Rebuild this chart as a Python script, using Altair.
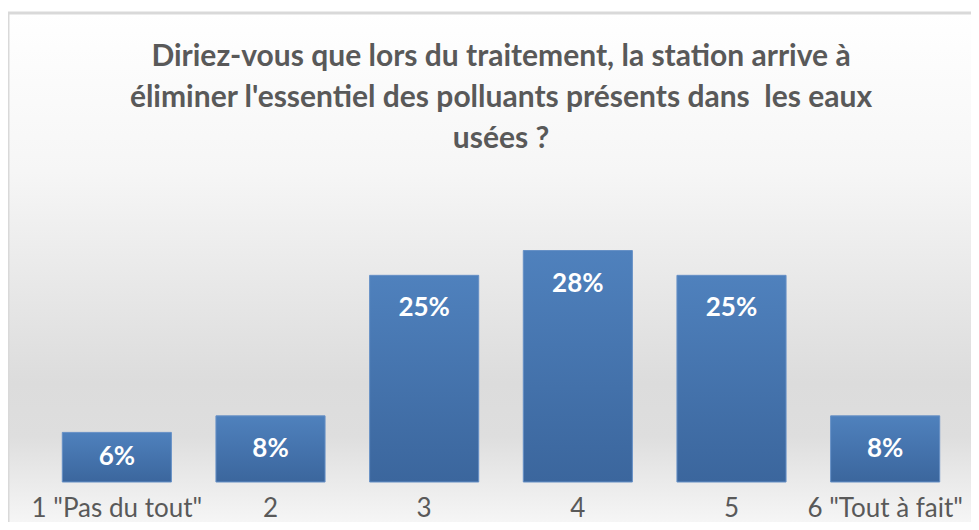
import altair as alt
import pandas as pd

categories = ['1 "Pas du tout"', '2', '3', '4', '5', '6 "Tout à fait"']
values = [6, 8, 25, 28, 25, 8]
title_lines = [
    "Diriez-vous que lors du traitement, la station arrive à",
    "éliminer l'essentiel des polluants présents dans\u00a0 les eaux",
    "usées ?",
]

df = pd.DataFrame({"cat": categories, "val": values})

W = 922
H = 248
FONT = "Lato"
GREY = "#595959"

x_enc = alt.X("cat:N", sort=categories,
              scale=alt.Scale(paddingInner=0.29, paddingOuter=0.145),
              axis=alt.Axis(title=None, ticks=False, domain=False, labelAngle=0,
                            labelFont=FONT, labelFontSize=26, labelColor=GREY,
                            labelPadding=26, labelBaseline="middle", grid=False,
                            zindex=1))
y_scale = alt.Scale(domain=[0, 30])

base = alt.Chart(df)

frame = base.transform_filter("datum.val == 28").mark_rect(
    fill=alt.Gradient(gradient="linear",
                      stops=[alt.GradientStop(offset=0, color="#ffffff"),
                             alt.GradientStop(offset=0.3, color="#f6f6f6"),
                             alt.GradientStop(offset=0.7, color="#dcdcdc"),
                             alt.GradientStop(offset=0.8, color="#dedede"),
                             alt.GradientStop(offset=1, color="#fbfbfb")],
                      x1=0, x2=0, y1=0, y2=1),
    stroke="#d9d9d9", strokeWidth=3,
).encode(x=alt.value(-32), x2=alt.value(W + 30), y=alt.value(-221), y2=alt.value(H + 60))

bars = base.mark_bar(
    fill=alt.Gradient(gradient="linear",
                      stops=[alt.GradientStop(offset=0, color="#4f81bd"),
                             alt.GradientStop(offset=1, color="#3b669d")],
                      x1=0, x2=0, y1=0, y2=1),
    stroke="#6690c6", strokeWidth=1,
).encode(x=x_enc, y=alt.Y("val:Q", scale=y_scale, axis=None))

labels = base.transform_calculate(
    ly="max(datum.val - 4, datum.val / 2)",
    lbl="datum.val + '%'",
).mark_text(font=FONT, fontWeight="bold", fontSize=26, color="white", baseline="middle").encode(
    x=alt.X("cat:N", sort=categories), y=alt.Y("ly:Q", scale=y_scale), text="lbl:N")

title = base.transform_filter("datum.val == 28").mark_text(
    text=title_lines, font=FONT, fontWeight="bold", fontSize=30, color=GREY,
    lineHeight=41, align="center", baseline="middle",
).encode(x=alt.value(W / 2), y=alt.value(-177))

chart = alt.layer(frame, bars, labels, title).properties(
    width=W, height=H,
    autosize=alt.AutoSizeParams(type="none"),
    padding={"left": 32, "top": 226, "right": 9, "bottom": 40},
).configure_view(stroke=None).configure(background="white")

chart.save("out.html", embed_options={"renderer": "svg", "actions": False})
